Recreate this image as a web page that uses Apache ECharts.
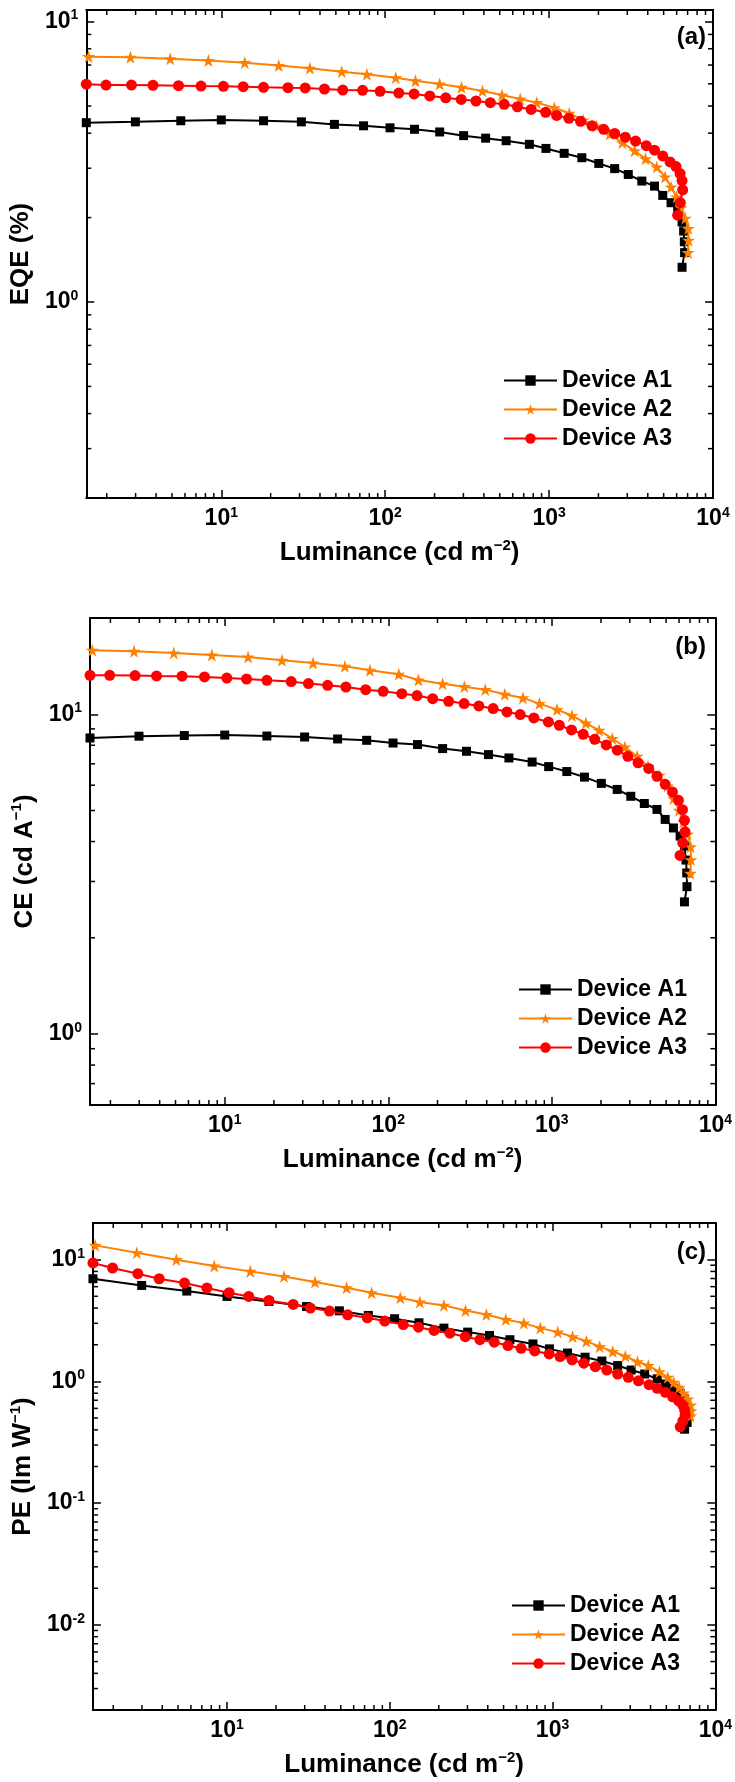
<!DOCTYPE html>
<html><head><meta charset="utf-8">
<script src="https://cdn.jsdelivr.net/npm/echarts@6/dist/echarts.min.js"></script>
<style>html,body{margin:0;padding:0;background:#fff}#c{width:735px;height:1782px}</style>
</head><body><div id="c"></div>
<script>
// ---------------- data ----------------
const seriesNames = ['Device A1', 'Device A2', 'Device A3'];

const lumA1 = [1.5, 2.99, 5.66, 10.0, 18.1, 30.8, 49, 73.8, 107, 151, 215, 301, 410, 547, 758, 957, 1236, 1584, 2009, 2512, 3041, 3680, 4397, 4936, 5546, 6090, 6475, 6620, 6685, 6710, 6475];
const eqeA1 = [4.36, 4.39, 4.43, 4.46, 4.43, 4.39, 4.30, 4.25, 4.18, 4.13, 4.04, 3.92, 3.84, 3.76, 3.65, 3.53, 3.39, 3.27, 3.12, 2.99, 2.85, 2.70, 2.59, 2.40, 2.26, 2.10, 1.93, 1.79, 1.64, 1.50, 1.33];
const ceA1 = [8.43, 8.54, 8.58, 8.61, 8.55, 8.49, 8.37, 8.29, 8.13, 8.04, 7.81, 7.66, 7.48, 7.30, 7.09, 6.86, 6.62, 6.36, 6.08, 5.82, 5.54, 5.26, 5.04, 4.69, 4.41, 4.16, 3.87, 3.50, 3.19, 2.89, 2.59];
const peA1 = [6.97, 6.14, 5.52, 4.99, 4.53, 4.12, 3.80, 3.48, 3.27, 3.03, 2.74, 2.54, 2.38, 2.20, 2.03, 1.85, 1.71, 1.58, 1.47, 1.35, 1.24, 1.15, 1.05, 0.953, 0.878, 0.798, 0.716, 0.631, 0.539, 0.460, 0.405];

const lumA2 = [1.55, 2.79, 4.88, 8.34, 13.9, 22.4, 34.7, 54.3, 77.3, 116, 153, 215, 292, 392, 516, 666, 841, 1076, 1328, 1615, 1947, 2344, 2799, 3325, 3875, 4538, 5105, 5550, 6000, 6380, 6775, 7065, 7095, 7045];
const eqeA2 = [7.50, 7.46, 7.37, 7.26, 7.14, 6.97, 6.82, 6.63, 6.49, 6.31, 6.15, 5.99, 5.83, 5.66, 5.47, 5.30, 5.14, 4.93, 4.71, 4.46, 4.24, 3.97, 3.70, 3.46, 3.24, 3.03, 2.79, 2.57, 2.37, 2.17, 1.99, 1.83, 1.66, 1.50];
const ceA2 = [15.85, 15.73, 15.55, 15.32, 15.10, 14.75, 14.46, 14.12, 13.72, 13.34, 12.8, 12.45, 12.2, 11.94, 11.55, 11.25, 10.80, 10.34, 9.91, 9.39, 8.91, 8.40, 7.90, 7.39, 6.88, 6.44, 5.96, 5.45, 5.01, 4.61, 4.22, 3.85, 3.51, 3.18];
const peA2 = [13.1, 11.4, 10.0, 8.87, 8.01, 7.28, 6.55, 5.88, 5.35, 4.86, 4.49, 4.21, 3.82, 3.54, 3.22, 3.01, 2.74, 2.54, 2.33, 2.14, 1.93, 1.76, 1.61, 1.45, 1.35, 1.20, 1.08, 0.984, 0.894, 0.802, 0.716, 0.639, 0.574, 0.521];

const lumA3 = [1.5, 1.98, 2.83, 3.83, 5.48, 7.52, 10.3, 13.6, 18.1, 25.5, 32.5, 42.6, 55.1, 72.8, 93.1, 121, 150, 187, 234, 291, 358, 438, 532, 641, 777, 953, 1112, 1320, 1556, 1830, 2154, 2512, 2917, 3370, 3917, 4397, 4936, 5470, 5950, 6300, 6475, 6530, 6320, 6085];
const eqeA3 = [5.98, 5.94, 5.94, 5.93, 5.91, 5.89, 5.88, 5.86, 5.83, 5.81, 5.80, 5.75, 5.70, 5.69, 5.64, 5.56, 5.52, 5.43, 5.35, 5.28, 5.21, 5.14, 5.07, 4.97, 4.86, 4.75, 4.63, 4.52, 4.41, 4.25, 4.13, 3.99, 3.87, 3.75, 3.61, 3.48, 3.32, 3.16, 3.04, 2.87, 2.71, 2.51, 2.26, 2.04];
const ceA3 = [13.24, 13.24, 13.21, 13.18, 13.15, 13.08, 12.98, 12.89, 12.77, 12.65, 12.47, 12.32, 12.17, 11.94, 11.80, 11.60, 11.44, 11.19, 10.98, 10.80, 10.62, 10.42, 10.17, 9.98, 9.74, 9.46, 9.24, 8.93, 8.66, 8.35, 8.02, 7.72, 7.39, 7.05, 6.77, 6.40, 6.04, 5.71, 5.38, 5.03, 4.66, 4.29, 3.96, 3.62];
const peA3 = [9.39, 8.54, 7.67, 6.97, 6.43, 5.85, 5.35, 4.99, 4.62, 4.29, 4.00, 3.78, 3.52, 3.33, 3.13, 2.93, 2.79, 2.62, 2.49, 2.33, 2.20, 2.10, 1.97, 1.87, 1.78, 1.68, 1.60, 1.50, 1.41, 1.32, 1.24, 1.15, 1.08, 1.01, 0.940, 0.878, 0.813, 0.748, 0.693, 0.639, 0.585, 0.529, 0.474, 0.424];

// axis ranges and tick values
const xRange = [1.5, 10000];
const yRangeA = [0.2, 11];
const yRangeB = [0.6, 20];
const yRangeC = [0.002, 20];
const minorTicksX = [2, 3, 4, 5, 6, 7, 8, 9, 20, 30, 40, 50, 60, 70, 80, 90, 200, 300, 400, 500, 600, 700, 800, 900, 2000, 3000, 4000, 5000, 6000, 7000, 8000, 9000];
const minorTicksYA = [0.3, 0.4, 0.5, 0.6, 0.7, 0.8, 0.9, 2, 3, 4, 5, 6, 7, 8, 9];
const minorTicksYB = [0.7, 0.8, 0.9, 2, 3, 4, 5, 6, 7, 8, 9];
const minorTicksYC = [0.003, 0.004, 0.005, 0.006, 0.007, 0.008, 0.009, 0.02, 0.03, 0.04, 0.05, 0.06, 0.07, 0.08, 0.09, 0.2, 0.3, 0.4, 0.5, 0.6, 0.7, 0.8, 0.9, 2, 3, 4, 5, 6, 7, 8, 9];
const panelLabels = ['(a)', '(b)', '(c)'];
const xAxisTitle = '{n|Luminance (cd m}{s|\u22122}{n|)}';
const yAxisTitles = ['{n|EQE (%)}', '{n|CE (cd A}{s|\u22121}{n|)}', '{n|PE (lm W}{s|\u22121}{n|)}'];

// ---------------- layout ----------------
const FONT = 'Liberation Sans, Arial, Helvetica, sans-serif';
const grids = [
  {left: 85, top: 10, width: 628, height: 488},
  {left: 90, top: 618, width: 627, height: 487},
  {left: 91, top: 1223, width: 626, height: 487}
];
const legendPos = [{left: 503, top: 366}, {left: 518, top: 975}, {left: 511, top: 1591}];
const labelTops = [25, 635, 1240];

const panels = [
  {y: [eqeA1, eqeA2, eqeA3], yr: yRangeA, minorY: minorTicksYA},
  {y: [ceA1, ceA2, ceA3], yr: yRangeB, minorY: minorTicksYB},
  {y: [peA1, peA2, peA3], yr: yRangeC, minorY: minorTicksYC}
];
const lums = [lumA1, lumA2, lumA3];
const colors = ['#000000', '#FF8000', '#FF0000'];
const STAR = 'path://M50,0 L61.8,35.1 L98.8,35.1 L68.8,56.7 L80.3,91.9 L50,70 L19.7,91.9 L31.2,56.7 L1.2,35.1 L38.2,35.1 Z';
const symbols = ['rect', STAR, 'circle'];
const symbolSizes = [9, 13, 11];

function powLabel(v) {
  const e = Math.log10(v);
  const r = Math.round(e);
  if (Math.abs(e - r) > 1e-6) return '';
  return '{b|10}{s|' + r + '}';
}
const labelRich = {
  b: {fontSize: 23, fontWeight: 'bold', fontFamily: FONT, color: '#000', lineHeight: 26},
  s: {fontSize: 14, fontWeight: 'bold', fontFamily: FONT, color: '#000', lineHeight: 14, verticalAlign: 'top'}
};
const nameRich = {
  n: {fontSize: 26, fontWeight: 'bold', fontFamily: FONT, color: '#000', lineHeight: 30},
  s: {fontSize: 15, fontWeight: 'bold', fontFamily: FONT, color: '#000', lineHeight: 15, verticalAlign: 'top'}
};
const axisLineStyle = {color: '#000', width: 2};
const tickStyle = {color: '#000', width: 1.5};

const xAxes = [], yAxes = [], series = [], legends = [], graphics = [];
panels.forEach((p, i) => {
  xAxes.push({
    type: 'log', logBase: 10, gridIndex: i, position: 'bottom', min: xRange[0], max: xRange[1],
    name: xAxisTitle, nameLocation: 'middle', nameGap: 40,
    nameTextStyle: {rich: nameRich},
    axisLine: {show: true, onZero: false, lineStyle: axisLineStyle},
    axisTick: {show: true, inside: true, length: 8, lineStyle: tickStyle},
    axisLabel: {show: true, margin: 8, formatter: powLabel, rich: labelRich, showMaxLabel: true, showMinLabel: true},
    splitLine: {show: false}, minorTick: {show: false}
  });
  xAxes.push({
    type: 'log', logBase: 10, gridIndex: i, position: 'top', min: xRange[0], max: xRange[1],
    axisLine: {show: true, onZero: false, lineStyle: axisLineStyle},
    axisTick: {show: true, inside: true, length: 8, lineStyle: tickStyle},
    axisLabel: {show: false}, splitLine: {show: false}
  });
  yAxes.push({
    type: 'log', logBase: 10, gridIndex: i, position: 'left', min: p.yr[0], max: p.yr[1],
    name: yAxisTitles[i], nameLocation: 'middle', nameGap: 46,
    nameTextStyle: {rich: nameRich},
    axisLine: {show: true, onZero: false, lineStyle: axisLineStyle},
    axisTick: {show: true, inside: true, length: 8, lineStyle: tickStyle},
    axisLabel: {show: true, margin: 8, formatter: powLabel, rich: labelRich},
    splitLine: {show: false}, minorTick: {show: false}
  });
  yAxes.push({
    type: 'log', logBase: 10, gridIndex: i, position: 'right', min: p.yr[0], max: p.yr[1],
    axisLine: {show: true, onZero: false, lineStyle: axisLineStyle},
    axisTick: {show: true, inside: true, length: 8, lineStyle: tickStyle},
    axisLabel: {show: false}, splitLine: {show: false}
  });

  // minor ticks on all four sides, positioned through the axes' scales
  const tickData = minorTicksX.map(v => [v, 1, 0]).concat(p.minorY.map(v => [100, v, 1]));
  series.push({
    type: 'custom', xAxisIndex: i * 2, yAxisIndex: i * 2, silent: true, animation: false, z: 1,
    data: tickData,
    renderItem: function (params, api) {
      const cs = params.coordSys;
      const st = {stroke: '#000', lineWidth: 1.5};
      const pt = api.coord([api.value(0), api.value(1)]);
      const L = 5;
      if (api.value(2) === 0) {
        const px = pt[0];
        return {type: 'group', children: [
          {type: 'line', shape: {x1: px, y1: cs.y + cs.height, x2: px, y2: cs.y + cs.height - L}, style: st},
          {type: 'line', shape: {x1: px, y1: cs.y, x2: px, y2: cs.y + L}, style: st}
        ]};
      } else {
        const py = pt[1];
        return {type: 'group', children: [
          {type: 'line', shape: {x1: cs.x, y1: py, x2: cs.x + L, y2: py}, style: st},
          {type: 'line', shape: {x1: cs.x + cs.width, y1: py, x2: cs.x + cs.width - L, y2: py}, style: st}
        ]};
      }
    }
  });

  for (let k = 0; k < 3; k++) {
    series.push({
      type: 'line', name: seriesNames[k], xAxisIndex: i * 2, yAxisIndex: i * 2,
      data: lums[k].map((x, j) => [x, p.y[k][j]]),
      symbol: symbols[k], symbolSize: symbolSizes[k], showSymbol: true, showAllSymbol: true,
      lineStyle: {color: colors[k], width: 2}, itemStyle: {color: colors[k]},
      animation: false, z: 3 + k
    });
  }

  legends.push({
    data: seriesNames, orient: 'vertical', left: legendPos[i].left, top: legendPos[i].top,
    itemWidth: 53, itemHeight: 13, itemGap: 0, padding: 0, selectedMode: false,
    textStyle: {fontSize: 23, fontWeight: 'bold', fontFamily: FONT, color: '#000', lineHeight: 29}
  });

  graphics.push({
    type: 'text', right: 735 - 706, top: labelTops[i],
    style: {text: panelLabels[i], font: 'bold 24px ' + FONT, fill: '#000'}
  });
});

const chart = echarts.init(document.getElementById('c'), null, {renderer: 'canvas'});
chart.setOption({
  backgroundColor: '#fff',
  animation: false,
  grid: grids,
  xAxis: xAxes,
  yAxis: yAxes,
  legend: legends,
  series: series,
  graphic: graphics
});
</script>
</body></html>
